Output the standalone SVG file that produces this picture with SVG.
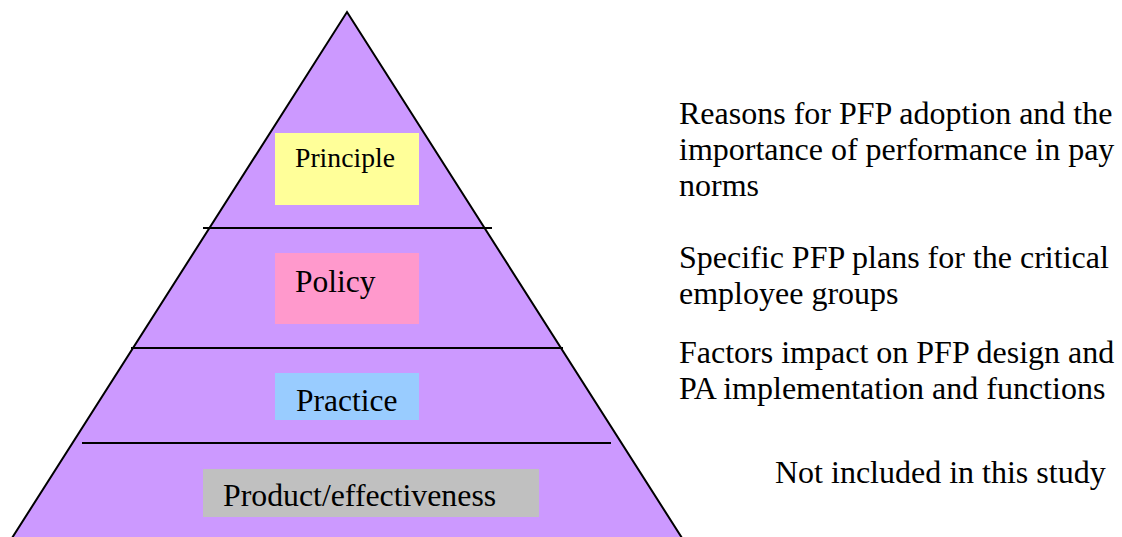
<svg xmlns="http://www.w3.org/2000/svg" width="1122" height="537" viewBox="0 0 1122 537">
<style>
text{font-family:'Liberation Serif','Times New Roman',Times,'DejaVu Serif',serif;fill:#000}
.r{font-size:32px}
.sep{stroke:#000;stroke-width:2;fill:none}
</style>
<rect width="1122" height="537" fill="#fff"/>
<g id="pyramid">
<polygon points="347,12 682,538 12,538" fill="#CC99FF" stroke="#000" stroke-width="2"/>
</g>
<g id="connectors">
<line class="sep" x1="203" y1="228" x2="492" y2="228"/>
<line class="sep" x1="131" y1="348" x2="563" y2="348"/>
<line class="sep" x1="82" y1="443" x2="611" y2="443"/>
</g>
<g id="principle">
<rect x="275" y="133" width="144" height="72" fill="#FFFF99"/>
<text x="295" y="167" font-family="Liberation Serif, serif" font-size="27.7">Principle</text>
</g>
<g id="policy">
<rect x="275" y="253" width="144" height="71" fill="#FF99CC"/>
<text x="295" y="292" font-family="Liberation Serif, serif" font-size="31.5">Policy</text>
</g>
<g id="practice">
<rect x="275" y="373" width="144" height="47" fill="#99CCFF"/>
<text x="296" y="411" font-family="Liberation Serif, serif" font-size="31.5">Practice</text>
</g>
<g id="product">
<rect x="203" y="469" width="336" height="48" fill="#C0C0C0"/>
<text x="223" y="506" font-family="Liberation Serif, serif" font-size="31.8">Product/effectiveness</text>
</g>
<g id="desc-principle" font-family="Liberation Serif, serif">
<text class="r" x="679" y="124">Reasons for PFP adoption and the</text>
<text class="r" x="679" y="160">importance of performance in pay</text>
<text class="r" x="679" y="196">norms</text>
</g>
<g id="desc-policy" font-family="Liberation Serif, serif">
<text class="r" x="679" y="268">Specific PFP plans for the critical</text>
<text class="r" x="679" y="304">employee groups</text>
</g>
<g id="desc-practice" font-family="Liberation Serif, serif">
<text class="r" x="679" y="363">Factors impact on PFP design and</text>
<text class="r" x="679" y="399">PA implementation and functions</text>
</g>
<g id="desc-product" font-family="Liberation Serif, serif">
<text class="r" x="775" y="483">Not included in this study</text>
</g>
</svg>
